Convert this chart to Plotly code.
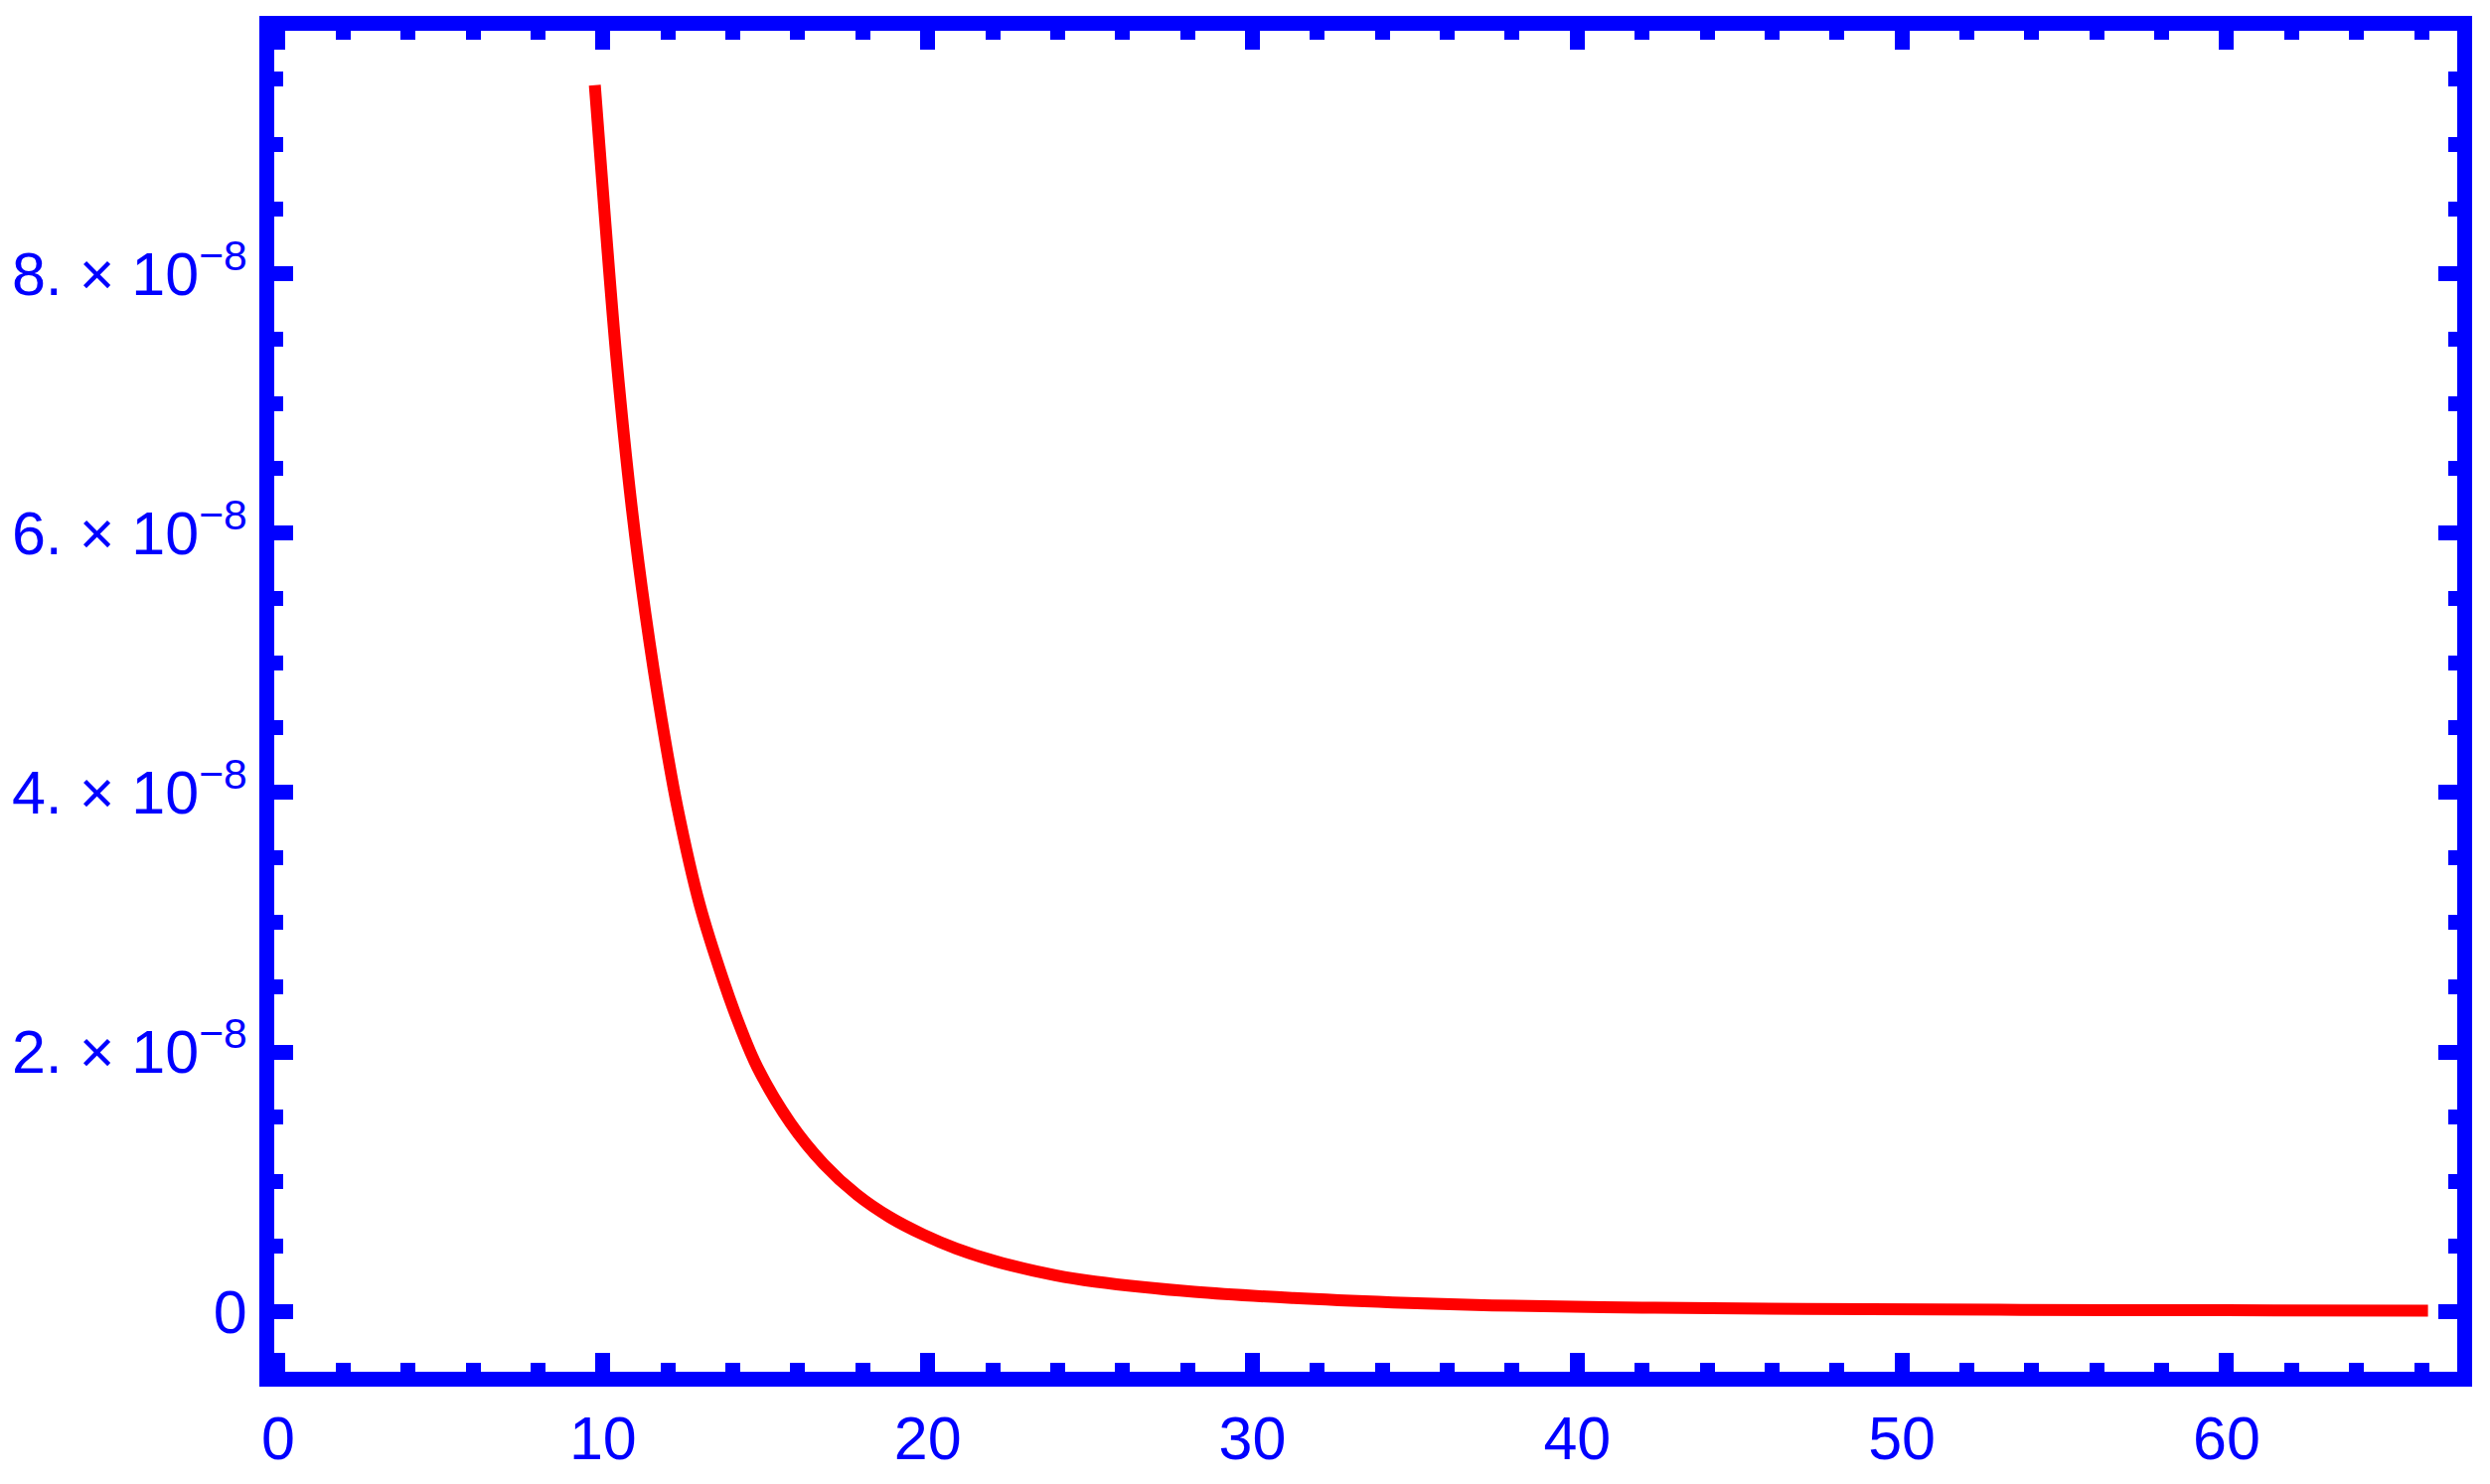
import plotly.graph_objects as go

# curve (y in units of 1e-8)
x_vals = [9.75, 10.06, 10.42, 10.90, 11.31, 11.81, 12.29, 12.98, 13.71, 14.20,
          14.76, 15.78, 16.80, 17.82, 18.84, 19.86, 20.87, 22.10, 23.93, 25.15,
          28.21, 31.27, 34.32, 37.38, 42.0, 47.0, 53.0, 60.0, 66.2]
y_vals = [9.455, 8.440, 7.340, 6.170, 5.376, 4.560, 3.890, 3.135, 2.550, 2.210,
          1.880, 1.450, 1.135, 0.900, 0.725, 0.592, 0.485, 0.385, 0.278, 0.229,
          0.150, 0.102, 0.069, 0.046, 0.029, 0.019, 0.012, 0.008, 0.005]

x_ticks = [0, 10, 20, 30, 40, 50, 60]
y_ticks = [0, 2e-8, 4e-8, 6e-8, 8e-8]
y_ticktext = ["0",
              "2. × 10<sup>−8</sup>",
              "4. × 10<sup>−8</sup>",
              "6. × 10<sup>−8</sup>",
              "8. × 10<sup>−8</sup>"]

BLUE = "#0000ff"
RED = "#ff0000"

fig = go.Figure()

fig.add_trace(go.Scatter(
    x=x_vals,
    y=[v * 1e-8 for v in y_vals],
    mode="lines",
    line=dict(color=RED, width=12, shape="spline", smoothing=1.0),
    showlegend=False,
))

axis_common = dict(
    showgrid=False,
    zeroline=False,
    showline=True,
    linecolor=BLUE,
    linewidth=15,
    mirror="ticks",
    ticks="inside",
    ticklen=19,
    tickwidth=15,
    tickcolor=BLUE,
    tickfont=dict(family="Liberation Sans, Arial, sans-serif", size=61, color=BLUE),
)

fig.update_xaxes(
    range=[-0.122, 67.1],
    tickmode="array",
    tickvals=x_ticks,
    ticktext=[str(t) for t in x_ticks],
    minor=dict(ticks="inside", ticklen=9, tickwidth=15, tickcolor=BLUE,
               dtick=2, tick0=0, showgrid=False),
    **axis_common,
)
fig.update_yaxes(
    range=[-0.466e-8, 9.875e-8],
    tickmode="array",
    tickvals=y_ticks,
    ticktext=y_ticktext,
    minor=dict(ticks="inside", ticklen=9, tickwidth=15, tickcolor=BLUE,
               dtick=0.5e-8, tick0=0, showgrid=False),
    **axis_common,
)

fig.update_layout(
    width=2506,
    height=1494,
    margin=dict(l=273, r=33, t=31, b=109),
    paper_bgcolor="white",
    plot_bgcolor="white",
    showlegend=False,
)

fig.write_html("out.html",
               config={"displayModeBar": False},
               post_script="document.body.style.margin='0';document.body.style.overflow='hidden';")
